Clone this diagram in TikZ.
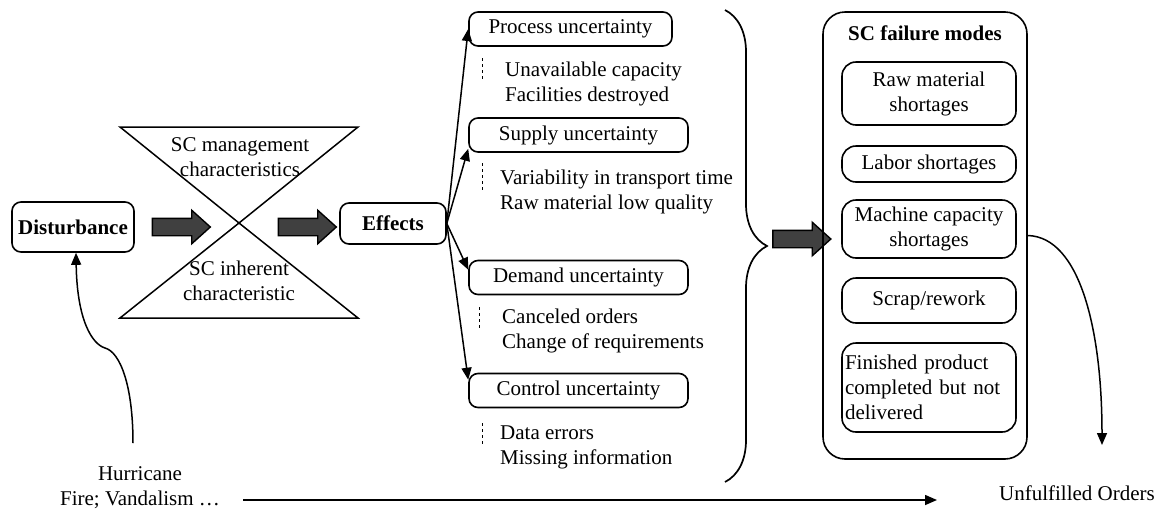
\documentclass[tikz,border=0pt]{standalone}
\usepackage{fontspec}
\setmainfont{Liberation Serif}
\usetikzlibrary{arrows.meta,shapes.arrows,decorations.pathreplacing}

\begin{document}
\begin{tikzpicture}[x=1pt,y=-1pt,
  every node/.style={font=\fontsize{21}{25}\selectfont},
  bold/.style={font=\fontsize{21}{25}\selectfont\bfseries},
  box/.style={draw,line width=1.6pt,rounded corners=9pt,inner sep=0pt},
  ubox/.style={box,minimum height=34pt},
  sbox/.style={box,rounded corners=14pt,minimum width=174pt,align=center},
  fat/.style={single arrow,draw,line width=1.4pt,fill=black!75,minimum height=58pt,
    minimum width=32pt,single arrow head extend=8pt,single arrow tip angle=84,
    inner xsep=0pt,inner ysep=8pt},
  item/.style={anchor=west,align=left,inner sep=0pt},
  tick/.style={line width=0.8pt,dash pattern=on 3pt off 3pt},
  link/.style={line width=1.5pt,-{Triangle[length=12pt,width=10pt]}}]
  \useasboundingbox (0,0) rectangle (1162,512);

  \node[box,bold,minimum width=122pt,minimum height=50pt] (dist) at (73,227) {Disturbance};
  \node[fat] (fat1) at (176.5,227) {};
  \coordinate (hgX) at (239,223);
  \draw[line width=1.5pt] (120,127) -- (358,127) -- (hgX) -- cycle;
  \draw[line width=1.5pt] (hgX) -- (358,318) -- (120,318) -- cycle;
  \node[align=center] (mgmt) at (240,157) {SC management\\characteristics};
  \node[align=center] (inh) at (239,281) {SC inherent\\characteristic};
  \node[fat] (fat2) at (302.5,227) {};
  \node[box,bold,minimum width=106pt,minimum height=41pt] (eff) at (393,223.5) {Effects};

  \node[ubox,minimum width=203pt] (proc) at (570.5,29) {Process uncertainty};
  \node[ubox,minimum width=219pt] (sup) at (578.5,135) {Supply uncertainty};
  \node[ubox,minimum width=219pt] (dem) at (578.5,277.5) {Demand uncertainty};
  \node[ubox,minimum width=219pt] (ctl) at (578.5,390.5) {Control uncertainty};

  \node[item] (procL) at (505,83.5) {Unavailable capacity\\Facilities destroyed};
  \node[item] (supL) at (500,191.5) {Variability in transport time\\Raw material low quality};
  \node[item] (demL) at (502,331) {Canceled orders\\Change of requirements};
  \node[item] (ctlL) at (500,447.5) {Data errors\\Missing information};
  \draw[tick] (482,58) -- (482,82);
  \draw[tick] (482,163) -- (482,190);
  \draw[tick] (479,307) -- (479,328);
  \draw[tick] (482,423) -- (482,445);

  \draw[link] (eff.east) -- (proc.west);
  \draw[link] (eff.east) -- ([yshift=4pt]sup.south west);
  \draw[link] (eff.east) -- ([yshift=-10pt]dem.north west);
  \draw[link] (eff.east) -- ([yshift=-7pt]ctl.north west);

  \draw[line width=1.7pt,decorate,decoration={brace,amplitude=42pt}] (725,10) -- (725,482);
  \node[fat] (fat3) at (797,239) {};

  \node[box,rounded corners=22pt,minimum width=204pt,minimum height=447pt] (modes) at (925,235.5) {};
  \node[bold] (modesT) at (925,33) {SC failure modes};
  \node[sbox,minimum height=63pt] (raw) at (929,93.5) {Raw material\\shortages};
  \node[sbox,minimum height=36pt] (lab) at (929,164) {Labor shortages};
  \node[sbox,minimum height=58pt] (mach) at (929,229) {Machine capacity\\shortages};
  \node[sbox,minimum height=45pt] (scr) at (929,300.5) {Scrap/rework};
  \node[sbox,minimum height=89pt,align=left,text width=168pt,inner xsep=3pt] (fin) at (929,387.5)
    {Finished product\\completed but not\\delivered};

  \coordinate (unf) at (1102,445);
  \node (unfT) at (1077,493) {Unfulfilled Orders};
  \draw[link] (modes.east) .. controls (1080,237) and (1102,330) .. (unf);

  \node[align=center] (hur) at (140,488) {Hurricane\\Fire; Vandalism …};
  \coordinate (hurTop) at (133,443);
  \draw[link] (hurTop) .. controls (133,385) and (120,352) .. (105,348)
    .. controls (92,344) and (77,320) .. ([xshift=3pt]dist.south);
  \coordinate (evStart) at (243,500);
  \coordinate (evEnd) at (937,500);
  \draw[link] (evStart) -- (evEnd);
\end{tikzpicture}
\end{document}
